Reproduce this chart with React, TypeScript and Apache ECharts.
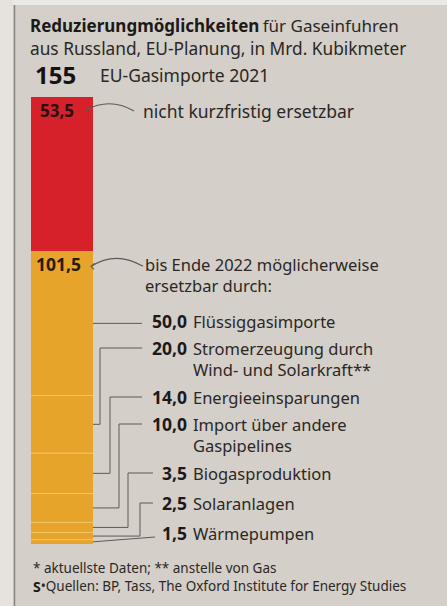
import React, { useEffect, useRef } from 'react';
import * as echarts from 'echarts';

// ---- data ----
const TITLE_BOLD = 'Reduzierungmöglichkeiten';
const TITLE_REST = 'für Gaseinfuhren';
const SUBTITLE = 'aus Russland, EU-Planung, in Mrd. Kubikmeter';
const TOTAL_VALUE = 155;
const TOTAL_LABEL = 'EU-Gasimporte 2021';
const FIXED_VALUE = 53.5;
const FIXED_LABEL = 'nicht kurzfristig ersetzbar';
const REPLACEABLE_VALUE = 101.5;
const REPLACEABLE_LABEL = ['bis Ende 2022 möglicherweise', 'ersetzbar durch:'];
const OPTION_NAMES = [
  ['Flüssiggasimporte'],
  ['Stromerzeugung durch', 'Wind- und Solarkraft**'],
  ['Energieeinsparungen'],
  ['Import über andere', 'Gaspipelines'],
  ['Biogasproduktion'],
  ['Solaranlagen'],
  ['Wärmepumpen'],
];
const OPTION_VALUES = [50.0, 20.0, 14.0, 10.0, 3.5, 2.5, 1.5];
const FOOTNOTE = '* aktuellste Daten; ** anstelle von Gas';
const SOURCE = '•Quellen: BP, Tass, The Oxford Institute for Energy Studies';

// ---- layout (positions of annotation labels) ----
const LABEL_Y = [321, 348, 397, 424, 473, 503, 533];
const ELBOW_X: (number | null)[] = [null, 100, 110, 119, 128, 140, null];
const LINE_END_X = [142, 142, 142, 142, 153, 153, 155];
const LINE_GAP = 21.5;

const FONT = "'Noto Sans', 'Open Sans', sans-serif";
const TXT = '#2a2826';
const LINE = '#5e5a55';
const RED = '#d6202a';
const ORANGE = '#e6a42b';
const DIVIDER = '#f2c56b';
const BG = '#d4cfc8';

const fmt = (v: number) => v.toFixed(1).replace('.', ',');

export default function App() {
  const ref = useRef<HTMLDivElement>(null);
  useEffect(() => {
    if (!ref.current) return;
    const chart = echarts.init(ref.current, undefined, { renderer: 'svg' });
    const series: any[] = [
      {
        type: 'bar',
        stack: 'gas',
        data: [FIXED_VALUE],
        barWidth: '100%',
        itemStyle: { color: RED },
        silent: true,
      },
      ...OPTION_VALUES.map((v) => ({
        type: 'bar',
        stack: 'gas',
        data: [v],
        barWidth: '100%',
        itemStyle: { color: ORANGE },
        silent: true,
      })),
    ];
    chart.setOption({
      animation: false,
      backgroundColor: BG,
      grid: { left: 31, top: 97, width: 62, height: 447 },
      xAxis: { type: 'category', data: ['EU'], show: false },
      yAxis: { type: 'value', min: 0, max: TOTAL_VALUE, inverse: true, show: false },
      series,
    });

    const py = (v: number) => chart.convertToPixel({ yAxisIndex: 0 }, v) as number;
    const barLeft = 31;
    const barRight = 93;
    const g: any[] = [];
    const txt = (text: string, x: number, y: number, size: number, bold = false, extra: any = {}) => ({
      type: 'text',
      z: 20,
      silent: true,
      style: {
        text, x, y, verticalAlign: 'middle', fontFamily: FONT, fontSize: size,
        fontWeight: bold ? 'bold' : 'normal', fill: bold ? '#1c1a18' : TXT, ...extra,
      },
    });
    const ln = (points: number[][], extra: any = {}) => ({
      type: 'polyline', z: 20, silent: true, shape: { points },
      style: { stroke: LINE, lineWidth: 1, fill: 'none', ...extra },
    });

    // page frame
    g.push({ type: 'rect', z: 0, shape: { x: 0, y: 0, width: 447, height: 5 }, style: { fill: '#ebe9e5' }, silent: true });
    g.push({ type: 'rect', z: 0, shape: { x: 0, y: 0, width: 13, height: 606 }, style: { fill: '#e6e3de' }, silent: true });
    g.push({ type: 'line', z: 0, shape: { x1: 14.5, y1: 5, x2: 14.5, y2: 606 }, style: { stroke: '#8a857e', lineWidth: 1.5 }, silent: true });

    // title
    g.push({
      type: 'text', z: 20,
      style: {
        text: `{b|${TITLE_BOLD}} {n|${TITLE_REST}}`,
        x: 30, y: 25, verticalAlign: 'middle',
        rich: {
          b: { fontFamily: FONT, fontSize: 17, fontWeight: 'bold', fill: '#1c1a18' },
          n: { fontFamily: FONT, fontSize: 17, fill: TXT },
        },
      },
    });
    g.push(txt(SUBTITLE, 30, 48, 17.3));

    // total
    g.push(txt(String(TOTAL_VALUE), 35, 74, 24, true, { fill: '#151311' }));
    g.push(txt(TOTAL_LABEL, 100, 75, 17.5));

    // dividers inside orange part
    let cum = FIXED_VALUE;
    OPTION_VALUES.forEach((v, i) => {
      cum += v;
      if (i < OPTION_VALUES.length - 1) {
        const y = py(cum);
        g.push({ type: 'line', z: 15, shape: { x1: barLeft, y1: y, x2: barRight, y2: y }, style: { stroke: DIVIDER, lineWidth: 1 }, silent: true });
      }
    });

    // fixed part label + curved arrow
    const yFixed = py(0) + 13;
    g.push(txt(fmt(FIXED_VALUE), 40, yFixed, 17, true, { fill: '#2a1012' }));
    g.push({ type: 'bezierCurve', z: 20, shape: { x1: 134, y1: yFixed + 1, cpx1: 110, cpy1: yFixed - 13, x2: 86, y2: yFixed }, style: { stroke: LINE, lineWidth: 1.2, fill: 'none' } });
    g.push(ln([[90, yFixed - 3], [86, yFixed], [90, yFixed + 2.5]], { lineWidth: 1.1 }));
    g.push(txt(FIXED_LABEL, 143, yFixed + 1, 17.5));

    // replaceable part label + curved arrow
    const yRep = py(FIXED_VALUE) + 13;
    g.push(txt(fmt(REPLACEABLE_VALUE), 36, yRep, 17.5, true, { fill: '#2a1a0a' }));
    g.push({ type: 'bezierCurve', z: 20, shape: { x1: 143, y1: yRep + 2, cpx1: 116, cpy1: yRep - 14, x2: 91, y2: yRep + 2 }, style: { stroke: LINE, lineWidth: 1.2, fill: 'none' } });
    g.push(ln([[95, yRep - 1], [91, yRep + 2], [94, yRep + 5]], { lineWidth: 1.1 }));
    REPLACEABLE_LABEL.forEach((t, k) => g.push(txt(t, 145, yRep + k * LINE_GAP, 16.5)));

    // option labels with leader lines
    cum = FIXED_VALUE;
    OPTION_VALUES.forEach((v, i) => {
      const mid = py(cum + v / 2);
      cum += v;
      const ly = LABEL_Y[i];
      const ex = LINE_END_X[i];
      const elbow = ELBOW_X[i];
      const pts = elbow == null
        ? [[ex, i === 0 ? mid : ly + 4], [barRight, mid]]
        : [[ex, ly], [elbow, ly], [elbow, mid], [barRight, mid]];
      g.push(ln(pts));
      g.push(txt(fmt(v), 187, ly, 17.5, true, { align: 'right' }));
      OPTION_NAMES[i].forEach((t, k) => g.push(txt(t, 193, ly + k * LINE_GAP, 16.5)));
    });

    // footnotes
    g.push(txt(FOOTNOTE, 33, 568, 13.5));
    g.push({
      type: 'text', z: 20,
      style: {
        text: `{s|S}{n|${SOURCE}}`,
        x: 33, y: 586, verticalAlign: 'middle',
        rich: {
          s: { fontFamily: FONT, fontSize: 14, fontWeight: 'bold', fill: '#1c1a18' },
          n: { fontFamily: FONT, fontSize: 13.5, fill: TXT },
        },
      },
    });

    chart.setOption({ graphic: g });
    return () => chart.dispose();
  }, []);
  return <div ref={ref} style={{ position: 'absolute', left: 0, top: 0, width: 447, height: 606 }} />;
}
